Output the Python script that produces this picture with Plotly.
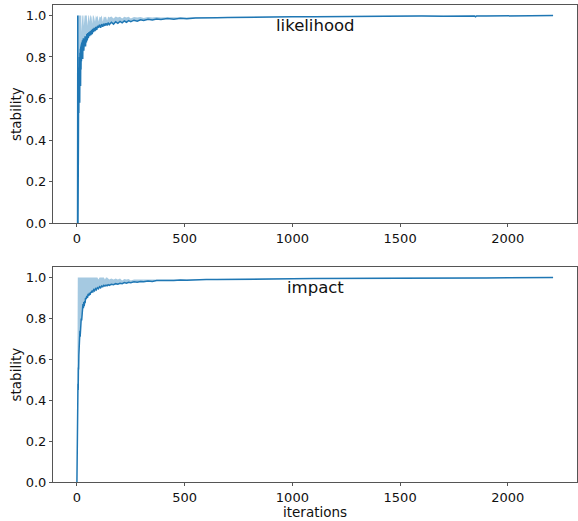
import plotly.graph_objects as go

# likelihood stability
lik_x = [0, 3, 4, 5, 6, 7, 8, 9, 10, 11,
         12, 13, 14, 15, 16, 17, 18, 19, 20, 21,
         22, 23, 24, 25, 26, 27, 28, 29, 30, 32,
         34, 36, 38, 40, 42, 44, 46, 48, 50, 53,
         56, 59, 62, 65, 68, 71, 74, 77, 80, 84,
         88, 92, 96, 100, 105, 110, 115, 120, 125, 130,
         135, 140, 145, 150, 160, 170, 180, 190, 200, 210,
         220, 230, 240, 250, 265, 280, 295, 310, 330, 350,
         370, 390, 420, 450, 480, 510, 550, 600, 650, 700,
         750, 800, 850, 900, 950, 1000, 1100, 1200, 1300, 1400,
         1500, 1600, 1700, 1800, 1845, 1850, 1855, 1900, 2000, 2100,
         2210]
lik_y = [0.0, 0.0, 1.0, 0.0, 0.62, 0.40, 0.72, 0.53, 0.75, 0.65,
         0.80, 0.58, 0.82, 0.70, 0.84, 0.66, 0.85, 0.74, 0.86, 0.78,
         0.87, 0.80, 0.86, 0.82, 0.88, 0.79, 0.87, 0.84, 0.89, 0.83,
         0.88, 0.86, 0.90, 0.85, 0.90, 0.87, 0.91, 0.88, 0.915, 0.89,
         0.92, 0.90, 0.925, 0.905, 0.93, 0.91, 0.935, 0.92, 0.94, 0.925,
         0.945, 0.93, 0.95, 0.94, 0.955, 0.94, 0.958, 0.945, 0.96, 0.95,
         0.962, 0.952, 0.965, 0.955, 0.967, 0.958, 0.969, 0.962, 0.971, 0.964,
         0.973, 0.967, 0.975, 0.97, 0.977, 0.972, 0.979, 0.975, 0.981, 0.978,
         0.983, 0.98, 0.985, 0.982, 0.986, 0.984, 0.988, 0.987, 0.989, 0.99,
         0.99, 0.991, 0.992, 0.991, 0.993, 0.993, 0.994, 0.995, 0.995, 0.996,
         0.996, 0.997, 0.996, 0.997, 0.997, 0.993, 0.997, 0.997, 0.998, 0.998,
         0.999]
lik_upper = [0.0, 0.0, 1.0, 1.0, 1.0, 1.0, 1.0, 1.0, 1.0, 1.0,
             1.0, 1.0, 1.0, 1.0, 1.0, 1.0, 1.0, 1.0, 1.0, 0.92,
             1.0, 1.0, 1.0, 1.0, 1.0, 1.0, 1.0, 1.0, 1.0, 0.95,
             1.0, 1.0, 1.0, 1.0, 1.0, 1.0, 1.0, 0.95, 1.0, 1.0,
             1.0, 0.97, 1.0, 1.0, 0.99, 0.96, 1.0, 1.0, 0.99, 0.97,
             1.0, 0.99, 1.0, 0.97, 0.995, 0.99, 1.0, 0.97, 0.995, 0.99,
             0.995, 0.975, 0.995, 0.99, 0.995, 0.985, 0.995, 0.99, 0.993, 0.985,
             0.993, 0.99, 0.993, 0.985, 0.992, 0.99, 0.992, 0.987, 0.992, 0.99,
             0.992, 0.99, 0.991, 0.99, 0.99, 0.99, 0.991, 0.99, 0.991, 0.992,
             0.992, 0.993, 0.994, 0.993, 0.995, 0.995, 0.996, 0.997, 0.997, 0.998,
             0.998, 0.999, 0.998, 0.999, 0.999, 0.996, 0.999, 0.999, 1.0, 1.0,
             1.0]

# impact stability
imp_x = [0, 1, 2, 3, 4, 5, 6, 7, 8, 9,
         10, 11, 12, 13, 14, 15, 16, 17, 18, 19,
         20, 22, 24, 26, 28, 30, 32, 34, 36, 38,
         40, 43, 46, 49, 52, 55, 58, 61, 64, 67,
         70, 74, 78, 82, 86, 90, 95, 100, 105, 110,
         115, 120, 125, 130, 135, 140, 145, 150, 160, 170,
         180, 190, 200, 210, 220, 230, 240, 250, 265, 280,
         295, 310, 330, 350, 370, 390, 420, 450, 480, 510,
         550, 600, 650, 700, 750, 800, 850, 900, 950, 1000,
         1100, 1200, 1300, 1400, 1500, 1600, 1700, 1800, 1900, 2000,
         2100, 2210]
imp_y = [0.0, 0.17, 0.0, 0.33, 0.40, 0.48, 0.45, 0.56, 0.55, 0.62,
         0.66, 0.63, 0.72, 0.69, 0.74, 0.71, 0.76, 0.75, 0.78, 0.77,
         0.80, 0.79, 0.84, 0.82, 0.87, 0.85, 0.88, 0.86, 0.885, 0.875,
         0.90, 0.895, 0.91, 0.90, 0.92, 0.91, 0.925, 0.915, 0.93, 0.925,
         0.935, 0.93, 0.94, 0.935, 0.945, 0.94, 0.95, 0.945, 0.955, 0.95,
         0.958, 0.955, 0.962, 0.958, 0.963, 0.96, 0.965, 0.962, 0.967, 0.965,
         0.97, 0.967, 0.972, 0.97, 0.975, 0.972, 0.977, 0.975, 0.979, 0.977,
         0.981, 0.979, 0.983, 0.981, 0.985, 0.984, 0.986, 0.985, 0.988, 0.987,
         0.989, 0.99, 0.99, 0.991, 0.992, 0.992, 0.993, 0.993, 0.994, 0.994,
         0.995, 0.995, 0.996, 0.996, 0.997, 0.997, 0.997, 0.998, 0.998, 0.999,
         0.999, 1.0]
imp_upper = [0.0, 1.0, 1.0, 1.0, 1.0, 1.0, 1.0, 1.0, 1.0, 1.0,
             1.0, 1.0, 1.0, 1.0, 1.0, 1.0, 1.0, 1.0, 1.0, 1.0,
             1.0, 1.0, 1.0, 1.0, 1.0, 1.0, 1.0, 1.0, 1.0, 1.0,
             1.0, 1.0, 1.0, 1.0, 1.0, 1.0, 1.0, 1.0, 1.0, 1.0,
             1.0, 1.0, 1.0, 1.0, 1.0, 1.0, 1.0, 0.99, 1.0, 1.0,
             1.0, 1.0, 1.0, 0.99, 1.0, 1.0, 0.995, 0.99, 0.995, 0.99,
             0.995, 0.99, 0.995, 0.985, 0.993, 0.99, 0.993, 0.985, 0.99, 0.99,
             0.99, 0.988, 0.99, 0.99, 0.99, 0.99, 0.99, 0.989, 0.991, 0.99,
             0.992, 0.993, 0.993, 0.994, 0.995, 0.995, 0.996, 0.996, 0.997, 0.997,
             0.998, 0.998, 0.999, 0.999, 1.0, 1.0, 1.0, 1.0, 1.0, 1.0,
             1.0, 1.0]

titles = ["likelihood", "impact"]
x_label = "iterations"
y_label = "stability"
x_ticks = [0, 500, 1000, 1500, 2000]
y_ticks = [0.0, 0.2, 0.4, 0.6, 0.8, 1.0]

BLUE = "#1f77b4"
LIGHT = "rgba(31,119,180,0.4)"
FONT = "DejaVu Sans"

fig = go.Figure()
series = [(lik_x, lik_y, lik_upper, "x", "y"), (imp_x, imp_y, imp_upper, "x2", "y2")]
for xs, ys, up, xa, ya in series:
    fig.add_trace(go.Scatter(x=xs, y=up, mode="lines", line=dict(width=0, color=LIGHT),
                             xaxis=xa, yaxis=ya, showlegend=False, hoverinfo="skip"))
    fig.add_trace(go.Scatter(x=xs, y=ys, mode="lines", fill="tonexty", fillcolor=LIGHT,
                             line=dict(width=1.5, color=BLUE),
                             xaxis=xa, yaxis=ya, showlegend=False))

axis_common = dict(showline=True, linecolor="#555", linewidth=1, mirror=True,
                   ticks="outside", ticklen=3, tickcolor="#555", tickwidth=1,
                   showgrid=False, zeroline=False,
                   tickfont=dict(family=FONT, size=13, color="#111"))

ytitle = dict(text=y_label, font=dict(family=FONT, size=13.5, color="#111"), standoff=0)

fig.update_layout(
    width=578, height=521,
    margin=dict(l=53, r=1, t=5, b=39),
    plot_bgcolor="white", paper_bgcolor="white",
    font=dict(family=FONT, color="#111"),
    xaxis=dict(domain=[0, 1], anchor="y", range=[-111, 2321], tickvals=x_ticks, **axis_common),
    yaxis=dict(domain=[0.5423, 1.0], anchor="x", range=[0, 1.05], tickvals=y_ticks,
               tickformat=".1f", title=ytitle, **axis_common),
    xaxis2=dict(domain=[0, 1], anchor="y2", range=[-111, 2321], tickvals=x_ticks, **axis_common),
    yaxis2=dict(domain=[0.0, 0.4501], anchor="x2", range=[0, 1.05], tickvals=y_ticks,
                tickformat=".1f", title=ytitle, **axis_common),
    annotations=[
        dict(text=titles[0], xref="x domain", yref="y domain", x=0.5, y=0.905,
             xanchor="center", yanchor="middle", showarrow=False,
             font=dict(family=FONT, size=16.5, color="#111")),
        dict(text=titles[1], xref="x2 domain", yref="y2 domain", x=0.5, y=0.908,
             xanchor="center", yanchor="middle", showarrow=False,
             font=dict(family=FONT, size=16.5, color="#111")),
        dict(text=x_label, xref="x2 domain", yref="paper", x=0.5, y=-0.0815,
             xanchor="center", yanchor="bottom", showarrow=False, borderpad=0,
             font=dict(family=FONT, size=13.5, color="#111")),
    ],
)

fig.write_html("out.html")
